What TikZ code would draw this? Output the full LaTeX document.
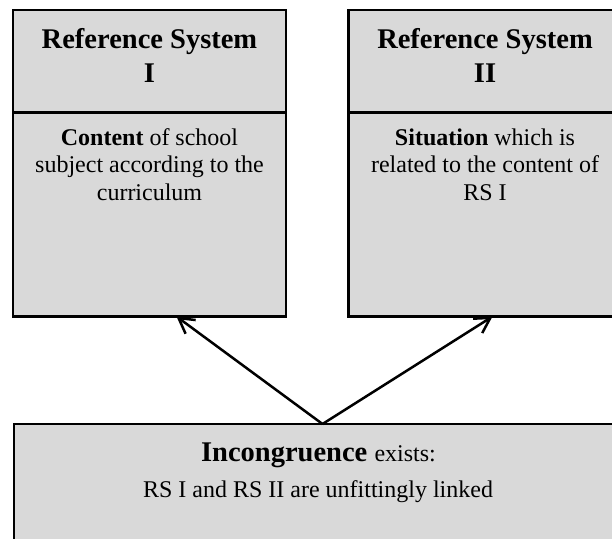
\documentclass[tikz,border=0pt]{standalone}
\usepackage{fontspec}
\setmainfont{Liberation Serif}
\usetikzlibrary{arrows.meta,calc}
\definecolor{boxgray}{HTML}{D9D9D9}
\tikzset{
  panel/.style={draw=black, line width=2.6pt, fill=boxgray, rectangle, inner sep=0pt, outer sep=0pt},
  titletext/.style={font=\fontsize{28.5}{34}\selectfont\bfseries, align=center, inner sep=0pt},
  bodytext/.style={font=\fontsize{24}{27.5}\selectfont, align=center, inner sep=0pt},
  link/.style={line width=2.5pt, -{Straight Barb[length=15pt,width=17pt]}}
}
\begin{document}
\begin{tikzpicture}[x=1pt,y=-1pt]
\useasboundingbox (0,0) rectangle (612,538);
\clip (0,0) rectangle (612,538);
% left reference system
\node[panel, minimum width=273pt, minimum height=102.5pt] (hdrI) at (149.5,61.25) {};
\node[panel, minimum width=273pt, minimum height=204pt] (bodyI) at (149.5,214.5) {};
% right reference system
\node[panel, minimum width=273pt, minimum height=102.5pt] (hdrII) at (485,61.25) {};
\node[panel, minimum width=273pt, minimum height=204pt] (bodyII) at (485,214.5) {};
% bottom box
\node[panel, minimum width=608pt, minimum height=176pt] (incong) at (318,512) {};
% texts (base anchor = baseline of the last line)
\node[titletext, anchor=base] (ttlI) at (149.5,82.3) {Reference System\\I};
\node[titletext, anchor=base] (ttlII) at (485,82.3) {Reference System\\II};
\node[bodytext, anchor=base] (txtI) at (149.5,200) {\textbf{Content} of school\\subject according to the\\curriculum};
\node[bodytext, anchor=base] (txtII) at (485,200) {\textbf{Situation} which is\\related to the content of\\RS I};
\node[inner sep=0pt, anchor=base] (incA) at (318.5,461.7) {\fontsize{28.5}{34}\selectfont\textbf{Incongruence} \fontsize{24}{27.5}\selectfont exists:};
\node[bodytext, anchor=base] (incB) at (318,497) {RS I and RS II are unfittingly linked};
% connectors
\coordinate (src) at ($(incong.north)+(4.5,0)$);
\draw[link] (src) -- ($(bodyI.south)+(27,0)$);
\draw[link] (src) -- ($(bodyII.south)+(7.5,0)$);
\end{tikzpicture}
\end{document}
